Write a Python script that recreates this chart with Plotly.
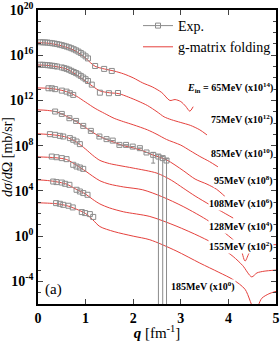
import plotly.graph_objects as go

SERIF = "Liberation Serif"
RED = "#e5413d"
GRAY = "#8c8c8c"

energies = [65, 75, 85, 95, 108, 128, 155, 185]
scale_exp = [14, 12, 10, 8, 6, 4, 2, 0]

# ---- g-matrix folding curves: q [fm^-1], log10(dsigma/dOmega [mb/sr]) unscaled
th_q_65 = [0, 0.2, 0.4, 0.6, 0.8, 1.0, 1.1, 1.2, 1.4, 1.6, 1.8, 2.0, 2.2, 2.4, 2.6, 2.77, 2.88, 3.0, 3.1, 3.19, 3.26]
th_l_65 = [3.11, 3.07, 2.93, 2.7, 2.35, 1.75, 1.35, 1.02, 0.78, 0.6, 0.35, 0.0, -0.45, -0.8, -1.3, -2.0, -1.92, -2.1, -2.5, -2.95, -2.55]

th_q_75 = [0, 0.2, 0.4, 0.6, 0.8, 1.0, 1.15, 1.3, 1.5, 1.7, 1.9, 2.1, 2.3, 2.5, 2.65, 2.8, 3.0, 3.2, 3.4, 3.55]
th_l_75 = [3.14, 3.1, 2.98, 2.78, 2.3, 1.7, 1.25, 0.85, 0.68, 0.6, 0.3, -0.05, -0.45, -1.0, -1.45, -1.7, -1.95, -2.2, -2.6, -3.05]

th_q_85 = [0, 0.2, 0.4, 0.6, 0.8, 1.0, 1.2, 1.4, 1.6, 1.8, 2.0, 2.3, 2.5, 2.7, 3.0, 3.2, 3.4, 3.6, 3.78]
th_l_85 = [3.11, 3.08, 2.98, 2.78, 2.4, 1.85, 1.3, 0.85, 0.42, 0.12, -0.15, -0.6, -1.0, -1.45, -1.95, -2.45, -2.95, -3.4, -3.87]

th_q_95 = [0, 0.2, 0.4, 0.6, 0.8, 1.0, 1.2, 1.4, 1.6, 1.8, 2.0, 2.2, 2.4, 2.7, 3.05, 3.3, 3.55, 3.75, 3.93]
th_l_95 = [3.17, 3.12, 2.98, 2.6, 2.15, 1.6, 1.05, 0.62, 0.3, 0.0, -0.2, -0.45, -0.8, -1.25, -2.2, -2.95, -3.4, -3.85, -4.5]

th_q_108 = [0, 0.2, 0.4, 0.6, 0.8, 1.0, 1.15, 1.3, 1.5, 1.7, 2.0, 2.5, 2.8, 3.05, 3.3, 3.6, 3.85, 4.1]
th_l_108 = [3.05, 3.0, 2.92, 2.75, 2.35, 1.7, 1.15, 0.7, 0.42, 0.25, 0.02, -0.43, -1.05, -1.75, -2.45, -3.2, -3.8, -4.4]

th_q_128 = [0, 0.2, 0.4, 0.6, 0.8, 1.0, 1.15, 1.3, 1.5, 1.8, 2.2, 2.6, 3.05, 3.6, 4.1, 4.25, 4.35, 4.45, 4.6, 4.8, 5.0]
th_l_128 = [3.01, 2.98, 2.92, 2.78, 2.3, 1.75, 1.3, 0.9, 0.6, 0.35, 0.1, -0.5, -1.38, -2.7, -4.32, -5.0, -6.2, -5.4, -5.0, -4.8, -4.75]

th_q_155 = [0, 0.2, 0.4, 0.6, 0.8, 1.0, 1.15, 1.3, 1.5, 1.8, 2.35, 2.9, 3.4, 3.8, 4.1, 4.3, 4.49, 4.6, 4.75, 5.0]
th_l_155 = [2.98, 2.92, 2.8, 2.6, 2.15, 1.72, 1.25, 0.85, 0.5, 0.15, -0.26, -1.1, -2.03, -2.9, -3.8, -4.6, -5.6, -5.25, -5.1, -5.0]

th_q_185 = [0, 0.2, 0.4, 0.6, 0.8, 1.0, 1.15, 1.3, 1.6, 2.0, 2.35, 2.9, 3.4, 3.8, 4.1, 4.35, 4.56, 4.7, 4.85, 5.0]
th_l_185 = [2.95, 2.92, 2.86, 2.7, 2.4, 2.0, 1.45, 0.85, 0.4, 0.0, -0.32, -1.3, -2.38, -3.2, -3.85, -4.7, -6.6, -5.5, -5.1, -4.88]

# ---- experimental points: q [fm^-1], log10(dsigma/dOmega) unscaled
ex_q_65 = [0.05, 0.1, 0.15, 0.2, 0.25, 0.3, 0.35, 0.4, 0.45, 0.5, 0.55, 0.6, 0.65, 0.7, 0.75, 0.8, 0.85, 0.9, 0.95, 1.0, 1.05, 1.2, 1.39, 1.55]
ex_l_65 = [3.15, 3.14, 3.13, 3.12, 3.09, 3.06, 3.03, 2.99, 2.94, 2.89, 2.83, 2.77, 2.7, 2.62, 2.53, 2.43, 2.32, 2.2, 2.06, 1.9, 1.72, 1.05, 0.79, 0.61]

ex_q_75 = [0.05, 0.1, 0.15, 0.2, 0.25, 0.3, 0.35, 0.4, 0.5, 0.55, 0.6, 0.65, 0.7, 0.75, 0.8, 0.85, 0.9, 0.95, 1.0, 1.05, 1.13, 1.3, 1.49, 1.68]
ex_l_75 = [3.16, 3.15, 3.14, 3.12, 3.1, 3.07, 3.04, 3.0, 2.92, 2.86, 2.8, 2.72, 2.62, 2.52, 2.42, 2.3, 2.17, 2.03, 1.88, 1.72, 1.4, 0.69, 0.64, 0.66]

ex_q_85 = [0.22, 0.29, 0.36, 0.5, 0.6, 0.67, 0.74]
ex_l_85 = [3.08, 3.08, 3.0, 2.87, 2.78, 2.64, 2.49]

ex_q_95 = [0.36, 0.5, 0.66, 0.8, 0.95, 1.11, 1.29, 1.44, 1.57, 1.71, 1.85, 1.99, 2.14, 2.28, 2.42]
ex_l_95 = [3.02, 2.81, 2.43, 2.19, 1.75, 1.31, 0.81, 0.58, 0.45, 0.07, 0.07, -0.08, -0.22, -0.6, -0.81]
ex_errlo_95 = [0, 0, 0, 0, 0, 0, 0, 0, 0, 0, 0, 0, 0, 0, -1.54]

# points with very large lower errors (95 MeV)
big_q_95 = [2.53, 2.62, 2.70]
big_l_95 = [-0.96, -1.1, -1.31]
big_errhi_95 = [-0.8, -0.95, -1.15]

ex_q_108 = [0.25, 0.36, 0.46, 0.53, 0.67, 0.74, 0.81, 0.88]
ex_l_108 = [3.02, 2.96, 2.87, 2.81, 2.67, 2.52, 2.37, 2.14]

ex_q_128 = [0.29, 0.39, 0.5, 0.6, 0.74, 0.81, 0.88, 0.95]
ex_l_128 = [3.04, 2.98, 2.9, 2.81, 2.31, 2.16, 2.07, 1.95]

ex_q_155 = [0.32, 0.39, 0.5, 0.57, 0.66, 0.81, 0.88, 0.95, 1.04]
ex_l_155 = [2.83, 2.78, 2.74, 2.63, 2.54, 2.1, 1.95, 1.81, 1.66]

ex_q_185 = [0.38, 0.46, 0.53, 0.64, 0.73, 0.92, 0.99, 1.09, 1.16]
ex_l_185 = [2.92, 2.86, 2.77, 2.69, 2.54, 2.13, 2.04, 1.95, 1.7]

theory = [(th_q_65, th_l_65), (th_q_75, th_l_75), (th_q_85, th_l_85), (th_q_95, th_l_95),
          (th_q_108, th_l_108), (th_q_128, th_l_128), (th_q_155, th_l_155), (th_q_185, th_l_185)]
expdata = [(ex_q_65, ex_l_65), (ex_q_75, ex_l_75), (ex_q_85, ex_l_85), (ex_q_95, ex_l_95),
           (ex_q_108, ex_l_108), (ex_q_128, ex_l_128), (ex_q_155, ex_l_155), (ex_q_185, ex_l_185)]

# label positions (q of right edge, scaled log10)
label_q = [4.95, 4.95, 4.95, 4.95, 4.95, 4.95, 4.95, 4.17]
label_l = [13.1, 10.28, 7.33, 4.9, 2.86, 0.85, -0.9, -4.44]

fig = go.Figure()

for (qs, ls), k in zip(theory, scale_exp):
    fig.add_trace(go.Scatter(x=qs, y=[10.0 ** (v + k) for v in ls], mode="lines",
                             line=dict(color=RED, width=1, shape="spline", smoothing=0.8),
                             showlegend=False, hoverinfo="skip"))

for i, ((qs, ls), k) in enumerate(zip(expdata, scale_exp)):
    ys = [10.0 ** (v + k) for v in ls]
    err = None
    if energies[i] == 95:
        lo = [(y - 10.0 ** (e + k)) if e != 0 else 0 for y, e in zip(ys, ex_errlo_95)]
        hi = [(10.0 ** (v + 0.2 + k) - y) if e != 0 else 0 for y, v, e in zip(ys, ls, ex_errlo_95)]
        err = dict(type="data", symmetric=False, array=hi, arrayminus=lo,
                   color=GRAY, thickness=1, width=2)
    fig.add_trace(go.Scatter(x=qs, y=ys, mode="markers",
                             marker=dict(symbol="square-open", size=5, color=GRAY, line=dict(width=1)),
                             error_y=err, showlegend=False, hoverinfo="skip"))

big_y = [10.0 ** (v + 8) for v in big_l_95]
fig.add_trace(go.Scatter(
    x=big_q_95, y=big_y, mode="markers",
    marker=dict(symbol="square-open", size=5, color=GRAY, line=dict(width=1)),
    error_y=dict(type="data", symmetric=False,
                 array=[10.0 ** (h + 8) - y for h, y in zip(big_errhi_95, big_y)],
                 arrayminus=big_y, color=GRAY, thickness=1, width=2),
    showlegend=False, hoverinfo="skip"))

# legend entries
fig.add_trace(go.Scatter(x=[None], y=[None], mode="lines+markers", name="Exp.",
                         line=dict(color=GRAY, width=1),
                         marker=dict(symbol="square-open", size=5, color=GRAY)))
fig.add_trace(go.Scatter(x=[None], y=[None], mode="lines", name="g-matrix folding",
                         line=dict(color=RED, width=1)))

for i, (e, k) in enumerate(zip(energies, scale_exp)):
    pre = "<i>E</i><sub>in</sub> = " if i == 0 else ""
    fig.add_annotation(x=label_q[i], y=label_l[i], xref="x", yref="y",
                       text=f"{pre}{e}MeV (x10<sup>{k}</sup>)", showarrow=False,
                       xanchor="right", yanchor="middle", bgcolor="white", borderpad=0,
                       font=dict(family=SERIF, size=10, color="black", weight="bold"))

fig.add_annotation(x=0.02, y=0.015, xref="paper", yref="paper", text="(a)", showarrow=False,
                   xanchor="left", yanchor="bottom", font=dict(family=SERIF, size=15, color="black"))

ytick_exp = [-4, 0, 4, 8, 12, 16, 20]
fig.update_yaxes(type="log", range=[-6, 20], automargin=False,
                 tickvals=[10.0 ** p for p in ytick_exp],
                 ticktext=[f"10<sup>{p}</sup>" for p in ytick_exp],
                 ticks="inside", ticklen=5, tickwidth=1, mirror="allticks",
                 minor=dict(tickvals=[10.0 ** p for p in range(-6, 21)], ticks="inside", ticklen=3),
                 showline=True, linecolor="black", linewidth=1.5, showgrid=False, zeroline=False,
                 tickfont=dict(family=SERIF, size=14, color="black", weight="bold"),
                 title=dict(text="<i>dσ</i>/<i>d</i>Ω [mb/sr]", standoff=0,
                            font=dict(family=SERIF, size=14, color="black")))
fig.update_xaxes(range=[0, 5], dtick=1, ticks="inside", ticklen=5, mirror="allticks", automargin=False,
                 showline=True, linecolor="black", linewidth=1.5, showgrid=False, zeroline=False,
                 tickfont=dict(family=SERIF, size=14, color="black", weight="bold"),
                 title=dict(text="<b><i>q</i></b> [fm<sup>-1</sup>]", standoff=0,
                            font=dict(family=SERIF, size=15, color="black")))

fig.update_layout(width=280, height=341, margin=dict(l=38, r=4, t=10, b=37, autoexpand=False),
                  plot_bgcolor="white", paper_bgcolor="white",
                  legend=dict(x=1.0, y=1.0, xanchor="right", yanchor="top",
                              bgcolor="rgba(0,0,0,0)", font=dict(family=SERIF, size=14, color="black"),
                              tracegroupgap=0, itemwidth=30))

fig.write_html("out.html")
